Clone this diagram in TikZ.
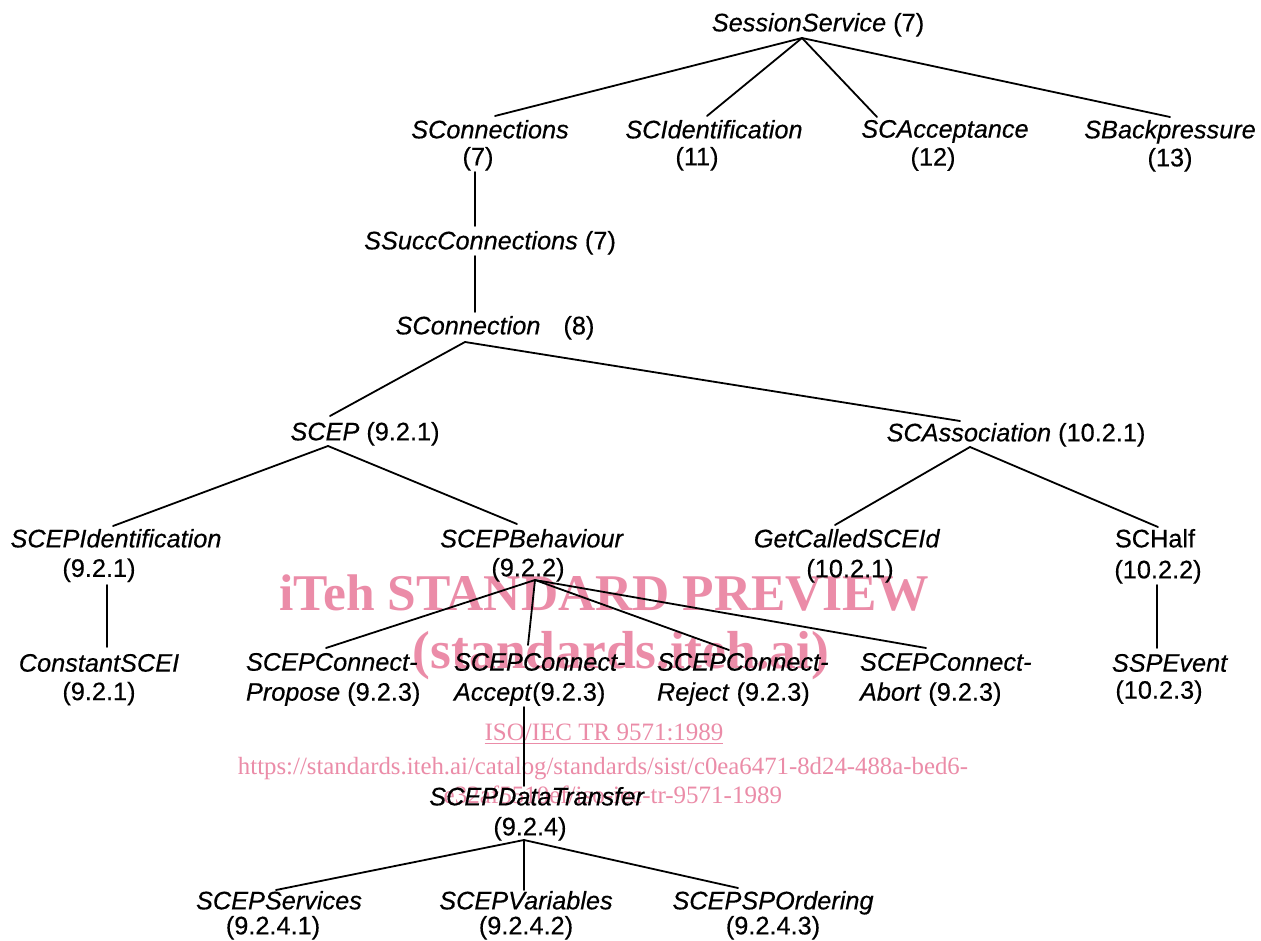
\documentclass[tikz,border=0pt]{standalone}
\usepackage{fontspec}
\setmainfont{Liberation Sans}
\newfontfamily\wmfont{Liberation Serif}
\definecolor{wmpink}{RGB}{235,140,168}
\begin{document}
\begin{tikzpicture}[x=1pt,y=-1pt,
  lbl/.style={inner sep=0pt, outer sep=0pt, align=center, anchor=north, font=\fontsize{25.3}{26}\selectfont\addfontfeature{FakeBold=0.4}},
  lblL/.style={lbl, align=left, anchor=north west},
  conn/.style={line width=1.8pt, line cap=round},
  wm/.style={text=wmpink, inner sep=0pt, outer sep=0pt, anchor=base}]
\useasboundingbox[fill=white] (0,0) rectangle (1261,941);

% watermark (behind the diagram)
\node[wm, font=\wmfont\bfseries\fontsize{51.5}{55}\selectfont] (wm1) at (604,610) {iTeh STANDARD PREVIEW};
\node[wm, font=\wmfont\bfseries\fontsize{53.5}{56}\selectfont] (wm2) at (621,668) {(standards.iteh.ai)};
\node[wm, font=\wmfont\fontsize{25}{28}\selectfont] (wm3) at (604,740) {ISO/IEC TR 9571:1989};
\draw[wmpink, line width=1.3pt] ([yshift=-3.5pt]wm3.base west) -- ([yshift=-3.5pt]wm3.base east);
\node[wm, font=\wmfont\fontsize{24.8}{28}\selectfont] (wm4) at (603,774) {https://standards.iteh.ai/catalog/standards/sist/c0ea6471-8d24-488a-bed6-};
\node[wm, anchor=base east, font=\wmfont\fontsize{25}{28}\selectfont] (wm5) at (782,803) {e32af5510ef/iso-iec-tr-9571-1989};

% nodes
\node[lbl] (ss) at (818,13) {\textit{SessionService} (7)};
\node[lbl] (scs) at (490,120) {\textit{SConnections}\\[1pt]\hspace*{-24pt}(7)};
\node[lbl] (sci) at (714,120) {\textit{SCIdentification}\\[1pt]\hspace*{-34pt}(11)};
\node[lbl] (sca) at (945,120) {\textit{SCAcceptance}\\[2pt]\hspace*{-24pt}(12)};
\node[lbl] (sbp) at (1170,120) {\textit{SBackpressure}\\[2pt](13)};
\node[lbl] (ssc) at (490,231) {\textit{SSuccConnections} (7)};
\node[lbl] (scn) at (495,316) {\textit{SConnection}\hspace{23pt}(8)};
\node[lbl] (scep) at (365,422) {\textit{SCEP} (9.2.1)};
\node[lbl] (scas) at (1016,423) {\textit{SCAssociation} (10.2.1)};
\node[lbl] (scepi) at (116,529) {\textit{SCEPIdentification}\\[3.5pt]\hspace*{-34pt}(9.2.1)};
\node[lbl] (scepb) at (532,529) {\textit{SCEPBehaviour}\\[3pt]\hspace*{-8pt}(9.2.2)};
\node[lbl] (gcs) at (847,529) {\textit{GetCalledSCEId}\\[4pt]\hspace*{6pt}(10.2.1)};
\node[lbl] (sch) at (1155,529) {SCHalf\\[5pt]\hspace*{6pt}(10.2.2)};
\node[lbl] (csc) at (99,654) {\textit{ConstantSCEI}\\[2.5pt](9.2.1)};
\node[lbl] (sspe) at (1170,654) {\textit{SSPEvent}\\[1pt]\hspace*{-22pt}(10.2.3)};
\node[lblL] (prop) at (246,653) {\textit{SCEPConnect-}\\[4pt]\textit{Propose} (9.2.3)};
\node[lblL] (acc) at (454,653) {\textit{SCEPConnect-}\\[4pt]\textit{Accept}(9.2.3)};
\node[lblL] (rej) at (657,653) {\textit{SCEPConnect-}\\[4pt]\textit{Reject} (9.2.3)};
\node[lblL] (abo) at (860,653) {\textit{SCEPConnect-}\\[4pt]\textit{Abort} (9.2.3)};
\node[lbl] (sdt) at (537,787) {\textit{SCEPDataTransfer}\\[4pt]\hspace*{-14pt}(9.2.4)};
\node[lbl] (ssv) at (279,891) {\textit{SCEPServices}\\[-1pt]\hspace*{-12pt}(9.2.4.1)};
\node[lbl] (svar) at (526,891) {\textit{SCEPVariables}\\[-1pt](9.2.4.2)};
\node[lbl] (sspo) at (773,891) {\textit{SCEPSPOrdering}\\[-1pt](9.2.4.3)};

% connectors
\draw[conn] ([xshift=-16pt,yshift=-25pt]ss.north) -- ([xshift=5pt,yshift=4pt]scs.north);
\draw[conn] ([xshift=-16pt,yshift=-25pt]ss.north) -- ([xshift=-7pt,yshift=4pt]sci.north);
\draw[conn] ([xshift=-16pt,yshift=-25pt]ss.north) -- ([xshift=-68pt,yshift=3pt]sca.north);
\draw[conn] ([xshift=-16pt,yshift=-25pt]ss.north) -- ([xshift=0pt,yshift=3pt]sbp.north);
\draw[conn] ([xshift=-15pt,yshift=-52pt]scs.north) -- ([xshift=-15pt,yshift=5pt]ssc.north);
\draw[conn] ([xshift=-15pt,yshift=-25pt]ssc.north) -- ([xshift=-20pt,yshift=4pt]scn.north);
\draw[conn] ([xshift=-30pt,yshift=-26pt]scn.north) -- ([xshift=-35pt,yshift=6pt]scep.north);
\draw[conn] ([xshift=-30pt,yshift=-26pt]scn.north) -- ([xshift=-56pt,yshift=2pt]scas.north);
\draw[conn] ([xshift=-37pt,yshift=-24pt]scep.north) -- ([xshift=-3pt,yshift=3pt]scepi.north);
\draw[conn] ([xshift=-37pt,yshift=-24pt]scep.north) -- ([xshift=-15pt,yshift=5pt]scepb.north);
\draw[conn] ([xshift=-46pt,yshift=-24pt]scas.north) -- ([xshift=-12pt,yshift=4pt]gcs.north);
\draw[conn] ([xshift=-46pt,yshift=-24pt]scas.north) -- ([xshift=3pt,yshift=2pt]sch.north);
\draw[conn] ([xshift=-9pt,yshift=-56pt]scepi.north) -- ([xshift=8pt,yshift=7pt]csc.north);
\draw[conn] ([xshift=2pt,yshift=-56pt]sch.north) -- ([xshift=-13pt,yshift=6pt]sspe.north);
\draw[conn] ([xshift=3pt,yshift=-51pt]scepb.north) -- ([xshift=80pt,yshift=5pt]prop.north west);
\draw[conn] ([xshift=3pt,yshift=-51pt]scepb.north) -- ([xshift=74pt,yshift=8pt]acc.north west);
\draw[conn] ([xshift=3pt,yshift=-51pt]scepb.north) -- ([xshift=72pt,yshift=3pt]rej.north west);
\draw[conn] ([xshift=3pt,yshift=-51pt]scepb.north) -- ([xshift=66pt,yshift=5pt]abo.north west);
\draw[conn] ([xshift=70pt,yshift=-54pt]acc.north west) -- ([xshift=-13pt,yshift=1pt]sdt.north);
\draw[conn] ([xshift=-13pt,yshift=-53pt]sdt.north) -- ([xshift=-3pt,yshift=1pt]ssv.north);
\draw[conn] ([xshift=-13pt,yshift=-53pt]sdt.north) -- ([xshift=-2pt,yshift=1pt]svar.north);
\draw[conn] ([xshift=-13pt,yshift=-53pt]sdt.north) -- ([xshift=-35pt,yshift=3pt]sspo.north);
\end{tikzpicture}
\end{document}
